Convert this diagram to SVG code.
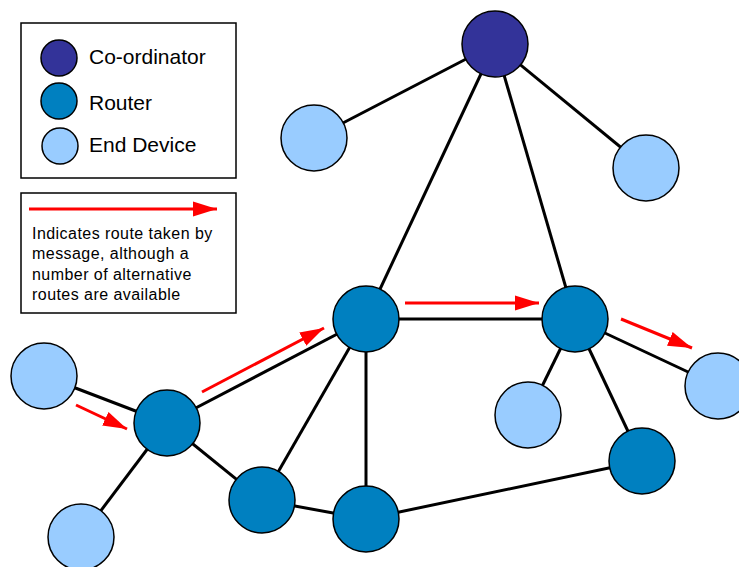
<svg xmlns="http://www.w3.org/2000/svg" width="739" height="567" viewBox="0 0 739 567">
<style>
.node{stroke:#000;stroke-width:1.5}
.coord{fill:#333399}
.router{fill:#0080C0}
.end{fill:#99CCFF}
.edge{stroke:#000;stroke-width:3;fill:none}
.route{stroke:#FF0000;stroke-width:3;fill:none}
.box{fill:#fff;stroke:#000;stroke-width:1.5}
.lbl{font-family:"Liberation Sans",Arial,sans-serif;font-size:21px;fill:#000}
.note{font-family:"Liberation Sans",Arial,sans-serif;font-size:16px;letter-spacing:0.45px;fill:#000}
</style>
<defs>
<marker id="ah" markerUnits="userSpaceOnUse" markerWidth="26" markerHeight="16" refX="24" refY="8" orient="auto">
<path d="M0,0.5 L24,8 L0,15.5 Z" fill="#FF0000"/>
</marker>
</defs>
<rect width="739" height="567" fill="#fff"/>
<g id="connectors">
<line class="edge" x1="495" y1="44" x2="314" y2="138"/>
<line class="edge" x1="495" y1="44" x2="646" y2="168"/>
<line class="edge" x1="495" y1="44" x2="366" y2="319"/>
<line class="edge" x1="495" y1="44" x2="575" y2="319"/>
<line class="edge" x1="366" y1="319" x2="575" y2="319"/>
<line class="edge" x1="575" y1="319" x2="718" y2="386"/>
<line class="edge" x1="575" y1="319" x2="528" y2="415"/>
<line class="edge" x1="575" y1="319" x2="642" y2="461"/>
<line class="edge" x1="642" y1="461" x2="366" y2="519"/>
<line class="edge" x1="366" y1="319" x2="366" y2="519"/>
<line class="edge" x1="366" y1="319" x2="262" y2="500"/>
<line class="edge" x1="366" y1="319" x2="167" y2="423"/>
<line class="edge" x1="167" y1="423" x2="44" y2="376"/>
<line class="edge" x1="167" y1="423" x2="81" y2="537"/>
<line class="edge" x1="167" y1="423" x2="262" y2="500"/>
<line class="edge" x1="262" y1="500" x2="366" y2="519"/>
<line class="route" x1="76" y1="405" x2="127" y2="429" marker-end="url(#ah)"/>
<line class="route" x1="202" y1="392" x2="324" y2="328" marker-end="url(#ah)"/>
<line class="route" x1="405" y1="303" x2="539" y2="303" marker-end="url(#ah)"/>
<line class="route" x1="621" y1="319" x2="692" y2="348" marker-end="url(#ah)"/>
</g>
<g id="coordinator"><circle class="node coord" cx="495" cy="44" r="33"/></g>
<g id="end-top-left"><circle class="node end" cx="314" cy="138" r="33"/></g>
<g id="end-top-right"><circle class="node end" cx="646" cy="168" r="33"/></g>
<g id="router-mid"><circle class="node router" cx="366" cy="319" r="33"/></g>
<g id="router-right"><circle class="node router" cx="575" cy="319" r="33"/></g>
<g id="end-far-right"><circle class="node end" cx="718" cy="386" r="33"/></g>
<g id="end-mid"><circle class="node end" cx="528" cy="415" r="33"/></g>
<g id="router-right-bottom"><circle class="node router" cx="642" cy="461" r="33"/></g>
<g id="router-bottom-mid"><circle class="node router" cx="366" cy="519" r="33"/></g>
<g id="router-bottom"><circle class="node router" cx="262" cy="500" r="33"/></g>
<g id="router-left"><circle class="node router" cx="167" cy="423" r="33"/></g>
<g id="end-left"><circle class="node end" cx="44" cy="376" r="33"/></g>
<g id="end-bottom-left"><circle class="node end" cx="81" cy="537" r="33"/></g>
<g id="legend">
<rect class="box" x="21" y="23" width="215" height="155"/>
<circle class="node coord" cx="59" cy="58" r="18"/>
<circle class="node router" cx="59" cy="101" r="18"/>
<circle class="node end" cx="60" cy="146" r="18"/>
<text class="lbl" x="89" y="64">Co-ordinator</text>
<text class="lbl" x="89" y="110">Router</text>
<text class="lbl" x="89" y="152">End Device</text>
</g>
<g id="route-note">
<rect class="box" x="21" y="193" width="215" height="120"/>
<line class="route" x1="29" y1="209" x2="217" y2="209" marker-end="url(#ah)"/>
<text class="note" x="32" y="239">Indicates route taken by</text>
<text class="note" x="32" y="259">message, although a</text>
<text class="note" x="32" y="280">number of alternative</text>
<text class="note" x="32" y="300">routes are available</text>
</g>
</svg>
